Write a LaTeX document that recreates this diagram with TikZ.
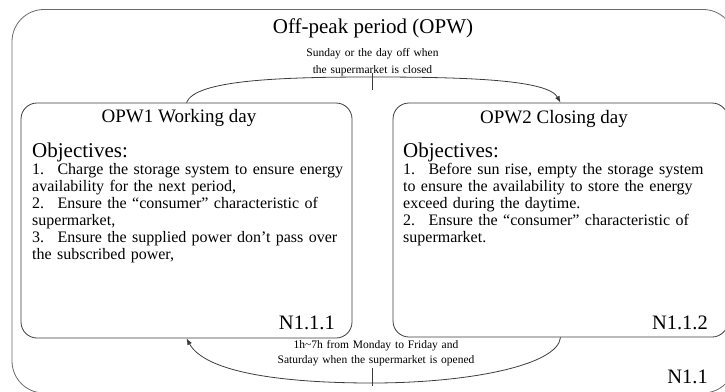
\documentclass[tikz,border=0pt]{standalone}
\usepackage{fontspec}
\setmainfont{Liberation Serif}
\usetikzlibrary{arrows.meta}
\definecolor{outerc}{RGB}{105,105,105}
\definecolor{linec}{RGB}{60,60,60}
\begin{document}
\begin{tikzpicture}[x=1pt,y=-1pt,
  box/.style={draw=linec, line width=0.8pt, rounded corners=16pt, inner sep=0pt},
  conn/.style={draw=linec, line width=0.8pt},
  arr/.style={conn, -{Latex[length=6.5pt,width=5pt]}},
  tick/.style={draw=linec, line width=0.8pt},
  ttl/.style={font=\fontsize{21}{25}\selectfont, anchor=base, inner sep=0pt},
  hdr/.style={font=\fontsize{19}{22}\selectfont, anchor=base, inner sep=0pt},
  obj/.style={font=\fontsize{21}{25}\selectfont, anchor=base west, inner sep=0pt},
  body/.style={font=\fontsize{16}{17.1}\selectfont, anchor=base west, inner sep=0pt, text width=340pt, align=left},
  lbl/.style={font=\fontsize{11.5}{#1}\selectfont, anchor=base, inner sep=0pt, text width=220pt, align=center},
  num/.style={font=\fontsize{20.5}{24}\selectfont, anchor=base east, inner sep=0pt}
]
\useasboundingbox (0,0) rectangle (725,391);
% outer frame
\node (outer) [draw=outerc, line width=0.8pt, rounded corners=32pt, minimum width=723pt, minimum height=383.5pt, inner sep=0pt] at (373.5,201.25) {};
% inner boxes
\node (lbox) [box, minimum width=331pt, minimum height=235pt] at (186.5,220.5) {};
\node (rbox) [box, minimum width=335pt, minimum height=234pt] at (560.5,220) {};
% texts
\node (title) [ttl] at (373,33) {Off-peak period (OPW)};
\node (toplbl) [lbl=17pt] at (372.5,56) {Sunday or the day off when\\the supermarket is closed};
\node (lhdr) [hdr] at (179,122) {OPW1 Working day};
\node (rhdr) [hdr] at (554,123) {OPW2 Closing day};
\node (lobj) [obj] at (32,157) {Objectives:};
\node (robj) [obj] at (403,157) {Objectives:};
\node (lbody) [body] at (32,174) {1.~ Charge the storage system to ensure energy\\availability for the next period,\\2.~ Ensure the “consumer” characteristic of\\supermarket,\\3.~ Ensure the supplied power don’t pass over\\the subscribed power,};
\node (rbody) [body] at (403,174) {1.~ Before sun rise, empty the storage system\\to ensure the availability to store the energy\\exceed during the daytime.\\2.~ Ensure the “consumer” characteristic of\\supermarket.};
\node (n111) [num] at (335,329) {N1.1.1};
\node (n112) [num] at (708,329) {N1.1.2};
\node (n11) [num] at (708,383) {N1.1};
\node (botlbl) [lbl=15pt] at (376,348) {1h\textasciitilde7h from Monday to Friday and\\Saturday when the supermarket is opened};
% connectors
\coordinate (tA) at (372,77);
\coordinate (tB) at (372,383);
\draw[arr] (lbox.north) .. controls (195,80) and (280,77) .. (tA) .. controls (470,77) and (548,80) .. (rbox.north);
\draw[arr] (rbox.south) .. controls (558,365) and (470,383) .. (tB) .. controls (280,383) and (205,372) .. (lbox.south);
\draw[tick] (372,73) -- (372,90);
\draw[tick] (372,368) -- (372,386);
\end{tikzpicture}
\end{document}
